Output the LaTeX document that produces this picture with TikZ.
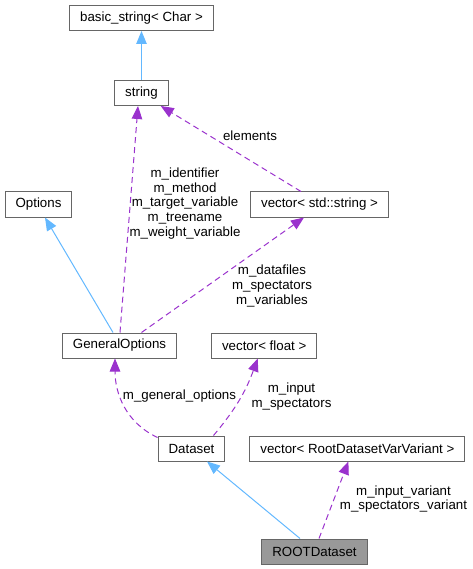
\documentclass[tikz,border=0pt]{standalone}
\usepackage{fontspec}
\setmainfont{Liberation Sans}
\usetikzlibrary{arrows.meta, positioning}

\definecolor{inhblue}{HTML}{63B8FF}
\definecolor{usepurple}{HTML}{9A32CD}
\definecolor{boxgray}{HTML}{666666}
\definecolor{rootgray}{HTML}{999999}

\begin{document}
\begin{tikzpicture}[
  x=1pt, y=-1pt,
  cls/.style={
    draw=boxgray, fill=white, line width=1pt,
    minimum height=25pt, inner xsep=10.5pt, inner ysep=0pt,
    font=\fontsize{13.3}{15}\selectfont
  },
  rootcls/.style={cls, fill=rootgray},
  inh/.style={-{Triangle[length=13pt, width=10.5pt]}, draw=inhblue, line width=1pt},
  usage/.style={-{Triangle[length=13pt, width=10.5pt, fill=usepurple]}, draw=usepurple,
    line width=1pt, dash pattern=on 6pt off 4pt},
  lbl/.style={align=center, inner sep=0pt, font=\fontsize{13.3}{14.6}\selectfont}
]
  \useasboundingbox (0,0) rectangle (472,569);

  \node[cls] (bs) at (141.5,18) {basic\_string< Char >};
  \node[cls, below=49pt of bs] (str) {string};
  \node[cls] (opt) at (38.5,204.5) {Options};
  \node[cls] (vs) at (319.5,204.5) {vector< std::string >};
  \node[cls] (go) at (119.5,345.5) {GeneralOptions};
  \node[cls, right=34pt of go] (vf) {vector< float >};
  \node[cls] (ds) at (191.5,448.5) {Dataset};
  \node[cls, right=24pt of ds] (vr) {vector< RootDatasetVarVariant >};
  \node[rootcls] (rd) at (314.5,551.5) {ROOTDataset};

  \draw[inh] (str) -- (bs);
  \draw[inh] ([xshift=-6.5pt]go.north) -- ([xshift=6.5pt]opt.south);
  \draw[inh] ([xshift=-14.5pt]rd.north) -- ([xshift=15.5pt]ds.south);

  \draw[usage] ([xshift=-18.5pt]vs.north) -- ([xshift=-8pt]str.south east)
    node[lbl] at (250,136) {elements};
  \draw[usage] ([xshift=0.5pt]go.north) -- ([xshift=-3.5pt]str.south)
    node[lbl] at (185,203.5) {m\_identifier\\m\_method\\m\_target\_variable\\m\_treename\\m\_weight\_variable};
  \draw[usage] ([xshift=22pt]go.north) -- ([xshift=-15.5pt]vs.south)
    node[lbl] at (272,286) {m\_datafiles\\m\_spectators\\m\_variables};
  \draw[usage] ([yshift=-2pt]ds.north west) to[out=155, in=-90] ([xshift=-4.5pt]go.south)
    node[lbl] at (179.5,396.5) {m\_general\_options};
  \draw[usage] ([xshift=22pt]ds.north) to[out=50, in=-110] ([xshift=-6.5pt]vf.south)
    node[lbl] at (291.5,396.5) {m\_input\\m\_spectators};
  \draw[usage] ([xshift=4.5pt]rd.north) -- ([xshift=-9pt]vr.south)
    node[lbl] at (403.5,499) {m\_input\_variant\\m\_spectators\_variant};
\end{tikzpicture}
\end{document}
